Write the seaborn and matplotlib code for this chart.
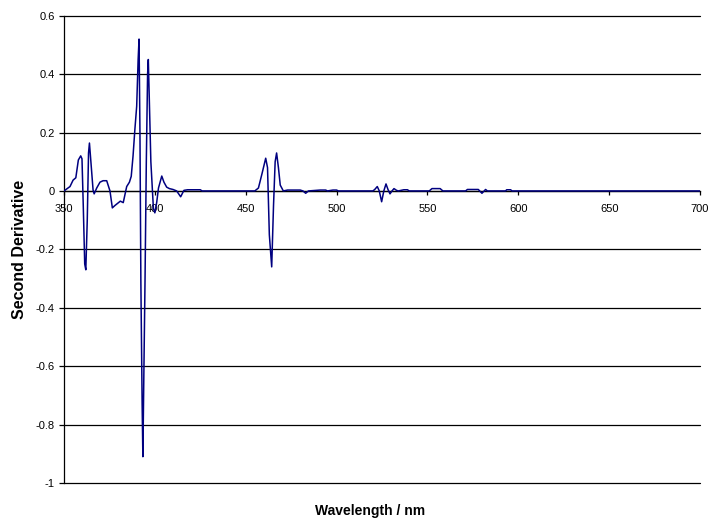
import matplotlib
matplotlib.use("Agg")
import matplotlib.pyplot as plt
from matplotlib.ticker import FuncFormatter
import seaborn as sns
import pandas as pd

# Second-derivative spectrum: wavelength (nm) and derivative value
wavelength = [
    350, 353.3, 355, 356.5, 357.9, 359.2, 359.9, 360.6, 361.4, 362, 362.8,
    363.5, 364, 364.8, 366, 366.6, 368, 369.8, 371.5, 373.5, 375.3, 376.6,
    378, 379, 381, 382.6, 384.5, 386, 387, 388, 389, 390, 390.8, 391.3,
    391.8, 392.3, 393.0, 393.4, 394.0, 394.6, 395.3, 396.0, 396.4, 397,
    397.8, 398.5, 399.2, 400, 401, 402, 403.8, 405, 406.5, 408, 410, 412,
    414.2, 416, 418, 422, 425, 426, 440, 455, 457, 459, 461, 462, 463,
    464.3, 465.3, 466.2, 467, 468, 469, 470.7, 473, 480, 481.5, 483, 484.5,
    491, 494, 495, 498, 500, 501, 520, 521, 522.4, 523.5, 524.8, 526,
    527.2, 528.3, 529.4, 530.5, 531.6, 533, 534, 537, 539, 540, 551,
    552.5, 557, 558.5, 571, 572, 578, 580, 582, 583, 593, 593.6, 595.8,
    596.5, 700,
]
second_derivative = [
    0.0, 0.015, 0.037, 0.045, 0.106, 0.12, 0.11, -0.05, -0.25, -0.27, -0.1,
    0.13, 0.164, 0.10, 0.003, -0.01, 0.01, 0.03, 0.035, 0.035, 0.0, -0.058,
    -0.05, -0.045, -0.035, -0.04, 0.015, 0.03, 0.05, 0.12, 0.21, 0.29, 0.45,
    0.52, 0.20, -0.31, -0.73, -0.91, -0.60, -0.30, 0.10, 0.40, 0.45, 0.30,
    0.10, 0.02, -0.06, -0.075, -0.04, 0.01, 0.051, 0.03, 0.013, 0.008,
    0.005, 0.0, -0.02, 0.002, 0.004, 0.004, 0.004, 0.0, 0.0, 0.0, 0.01,
    0.06, 0.112, 0.08, -0.15, -0.26, -0.05, 0.10, 0.13, 0.08, 0.02, 0.0,
    0.003, 0.003, 0.0, -0.008, 0.0, 0.003, 0.003, 0.0, 0.003, 0.003, 0.0,
    0.0, 0.005, 0.015, 0.0, -0.037, 0.0, 0.024, 0.005, -0.01, 0.0, 0.008,
    0.002, 0.0, 0.004, 0.004, 0.0, 0.0, 0.008, 0.008, 0.0, 0.0, 0.005,
    0.005, -0.008, 0.005, 0.0, 0.0, 0.004, 0.004, 0.0, 0.0,
]

x_ticks = [350, 400, 450, 500, 550, 600, 650, 700]
y_ticks = [-1, -0.8, -0.6, -0.4, -0.2, 0, 0.2, 0.4, 0.6]

df = pd.DataFrame({"Wavelength": wavelength, "Value": second_derivative})

sns.set_theme(style="white")
plt.rcParams["font.family"] = ["Liberation Sans", "DejaVu Sans"]
plt.rcParams["text.color"] = "black"
plt.rcParams["xtick.color"] = "black"
plt.rcParams["ytick.color"] = "black"
plt.rcParams["axes.labelcolor"] = "black"

fig = plt.figure(figsize=(7.12, 5.26), dpi=100)
ax = fig.add_axes([64 / 712, 1 - 483 / 526, 636 / 712, (483 - 15.7) / 526])

ax.set_xlim(350, 700)
ax.set_ylim(-1, 0.6)
ax.set_yticks(y_ticks)
ax.set_xticks(x_ticks)

# horizontal grid lines at every major y tick (edges drawn unclipped)
ax.xaxis.grid(False)
for yv in y_ticks:
    ax.axhline(yv, color="black", linewidth=0.9, zorder=1, clip_on=False)

sns.lineplot(data=df, x="Wavelength", y="Value", ax=ax, estimator=None,
             sort=False, color="#000080", linewidth=1.1, zorder=3)

# category axis crosses at zero
ax.spines["bottom"].set_position(("data", 0))
ax.spines["bottom"].set_color("black")
ax.spines["bottom"].set_linewidth(0.9)
ax.spines["left"].set_color("black")
ax.spines["left"].set_linewidth(0.9)
ax.spines["top"].set_visible(False)
ax.spines["right"].set_visible(False)

def general(v, pos):
    s = f"{v:.1f}".rstrip("0").rstrip(".")
    return "0" if s in ("-0", "0") else s

ax.yaxis.set_major_formatter(FuncFormatter(general))
ax.xaxis.set_major_formatter(FuncFormatter(lambda v, p: f"{v:.0f}"))

ax.tick_params(axis="y", direction="out", length=3.6, width=0.9,
               color="black", labelcolor="black", pad=3, labelsize=8,
               left=True)
ax.tick_params(axis="x", direction="out", length=3, width=0.9,
               color="black", labelcolor="black", pad=6.5, labelsize=8,
               bottom=True)

ax.set_xlabel("Wavelength / nm", fontsize=10, fontweight="bold",
              color="black")
ax.set_ylabel("Second Derivative", fontsize=11.5, fontweight="bold",
              color="black")
ax.xaxis.set_label_coords((370 - 64) / 636, (483 - 504) / 467.3)
ax.yaxis.set_label_coords((27 - 64) / 636, 0.5)

fig.savefig("out.png", dpi=100)
